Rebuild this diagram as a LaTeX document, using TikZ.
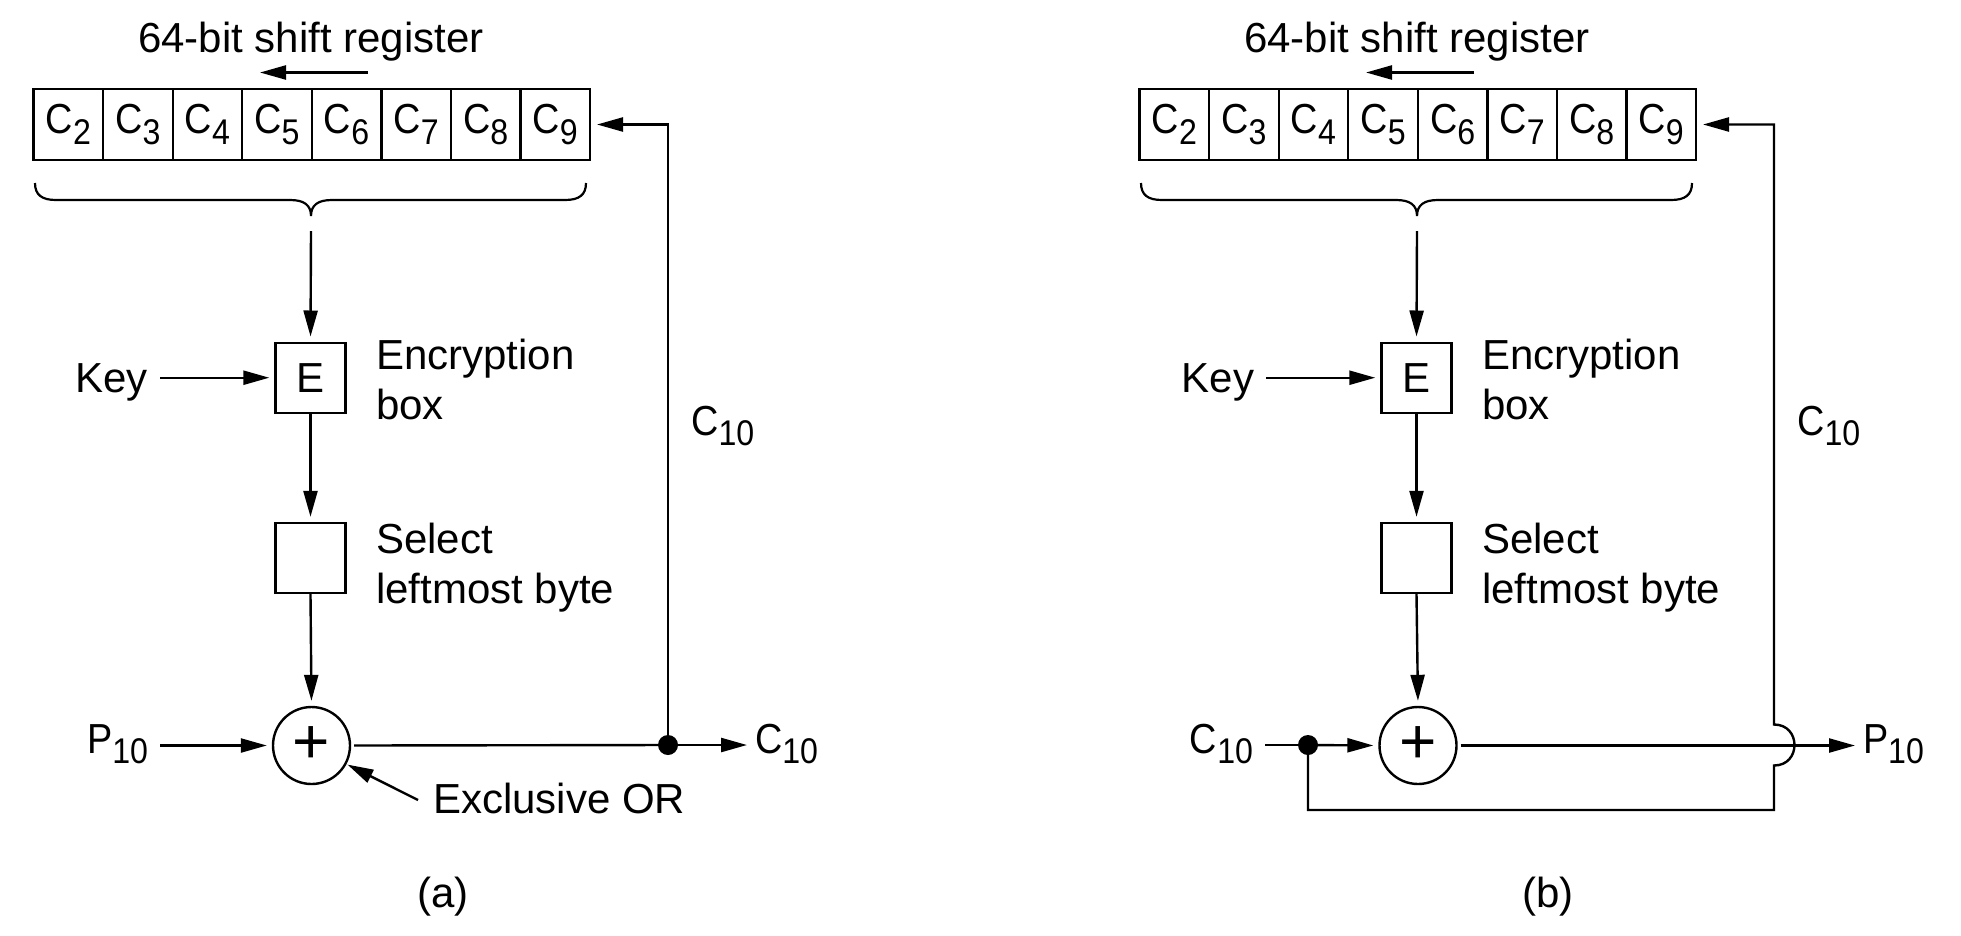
\documentclass[tikz,border=0pt]{standalone}
\usepackage{fontspec}
\setmainfont{Liberation Sans}
\usetikzlibrary{arrows.meta,calc}
\newcommand\sbs[2]{\scalebox{0.9}[1]{#1\raisebox{-0.25em}{\scalebox{0.85}{#2}}}}
\begin{document}
\begin{tikzpicture}[x=1pt,y=-1pt,line width=2.4pt,
  font=\fontsize{42}{50}\selectfont,
  arr/.style={-{Triangle[length=26pt,width=14pt]},shorten >=5pt},
  cell/.style={draw,minimum width=69.55pt,minimum height=71pt,inner sep=0pt,outer sep=0pt},
  blk/.style={draw,minimum size=70pt,inner sep=0pt},
  xor/.style={draw,circle,minimum size=77pt,inner sep=0pt,font=\fontsize{64}{64}\selectfont},
  dot/.style={fill,circle,minimum size=20pt,inner sep=0pt},
  lbl/.style={inner sep=0pt,align=left},
  inlbl/.style={inner xsep=0pt,outer xsep=12pt,inner ysep=0pt},
  outl/.style={inner xsep=0pt,outer xsep=8pt,inner ysep=0pt},
  brace/.style={line width=2.2pt}]
\useasboundingbox (0,0) rectangle (1961,935);

% ---------------- panel (a) ----------------
\node[anchor=base] (atitle) at (311,52) {64-bit shift register};
\coordinate (as1) at (368,72.5);
\coordinate (as2) at (260,72.5);
\draw[arr,shorten >=0pt] (as1) -- (as2);
\foreach \i in {2,...,9}
  \node[cell] (a\i) at ({33.6+69.55*(\i-1.5)},124.5) {\sbs{C}{\i}};
\draw[brace] (35,183) .. controls (35,195) and (42,200) .. (56,200) -- (290,200)
  .. controls (304,200) and (311,205) .. (311,216)
  .. controls (311,205) and (318,200) .. (332,200) -- (565,200)
  .. controls (579,200) and (586,195) .. (586,183);
\coordinate (abr) at (311,231);
\node[blk] (aE) at (310.5,377.7) {E};
\node[blk] (aS) at (310.5,558) {};
\node[xor] (aX) at (311.5,745.5) {+};
\node[inlbl,anchor=base east] (akey) at (160,392.7) {Key};
\node[lbl,anchor=north west] (aEl) at (375,338) {Encryption\\box};
\node[lbl,anchor=north west] (aSl) at (375,521.5) {Select\\leftmost byte};
\node[lbl,anchor=base west] (afbl) at (690,435) {\sbs{C}{10}};
\node[inlbl,anchor=base east] (ap) at (160,753) {\sbs{P}{10}};
\node[dot] (adot) at (668,745) {};
\node[outl,anchor=base west] (aout) at (747,753) {\sbs{C}{10}};
\node[lbl,anchor=base west] (axl) at (432,813) {Exclusive OR};

\draw[arr] (abr) -- (aE.north);
\draw[arr] (akey.east |- aE.west) -- (aE.west);
\draw[arr] (aE.south) -- (aS.north);
\draw[arr] (aS.south) -- (aX.north);
\draw[arr] (ap.east |- aX.west) -- (aX.west);
\draw[shorten <=3pt] (aX.east) -- (adot.center);
\draw[arr,shorten >=0pt] (adot.center) -- (aout.west |- adot.center);
\draw[arr,shorten >=7pt] (adot.center) -- (adot.center |- a9.east) -- (a9.east);
\draw[arr,shorten >=1pt] ([xshift=-14pt,yshift=13pt]axl.base west) -- (aX.-28);

% ---------------- panel (b) ----------------
\node[anchor=base] (btitle) at (1417,52) {64-bit shift register};
\coordinate (bs1) at (1474,72.5);
\coordinate (bs2) at (1366,72.5);
\draw[arr,shorten >=0pt] (bs1) -- (bs2);
\foreach \i in {2,...,9}
  \node[cell] (b\i) at ({1139.6+69.55*(\i-1.5)},124.5) {\sbs{C}{\i}};
\draw[brace] (1141,183) .. controls (1141,195) and (1148,200) .. (1162,200) -- (1396,200)
  .. controls (1410,200) and (1417,205) .. (1417,216)
  .. controls (1417,205) and (1424,200) .. (1438,200) -- (1671,200)
  .. controls (1685,200) and (1692,195) .. (1692,183);
\coordinate (bbr) at (1417,231);
\node[blk] (bE) at (1416.5,377.7) {E};
\node[blk] (bS) at (1416.5,558) {};
\node[xor] (bX) at (1418,745.5) {+};
\node[inlbl,anchor=base east] (bkey) at (1266,392.7) {Key};
\node[lbl,anchor=north west] (bEl) at (1481,338) {Encryption\\box};
\node[lbl,anchor=north west] (bSl) at (1481,521.5) {Select\\leftmost byte};
\node[lbl,anchor=base west] (bfbl) at (1796,435) {\sbs{C}{10}};
\node[inlbl,anchor=base east] (bin) at (1265,753) {\sbs{C}{10}};
\node[dot] (bdot) at (1308,745) {};
\node[outl,anchor=base west] (bout) at (1855,753) {\sbs{P}{10}};
\coordinate (bfa) at (1774,810);
\coordinate (bja) at (1774,765.5);
\coordinate (bjb) at (1774,724.5);

\draw[arr] (bbr) -- (bE.north);
\draw[arr] (bkey.east |- bE.west) -- (bE.west);
\draw[arr] (bE.south) -- (bS.north);
\draw[arr] (bS.south) -- (bX.north);
\draw (bin.east |- bdot.center) -- (bdot.center);
\draw[arr] (bdot.center) -- (bX.west);
\draw[arr,shorten <=3pt,shorten >=0pt] (bX.east) -- (bout.west |- bX.east);
\draw[arr,shorten >=7pt] (bdot.center) -- (bdot.center |- bfa) -- (bfa) -- (bja)
  .. controls (1801.3,765.5) and (1801.3,724.5) .. (bjb) -- (bjb |- b9.east) -- (b9.east);

% captions
\node[anchor=base] (capa) at (443,907) {(a)};
\node[anchor=base] (capb) at (1548,907) {(b)};
\end{tikzpicture}
\end{document}
